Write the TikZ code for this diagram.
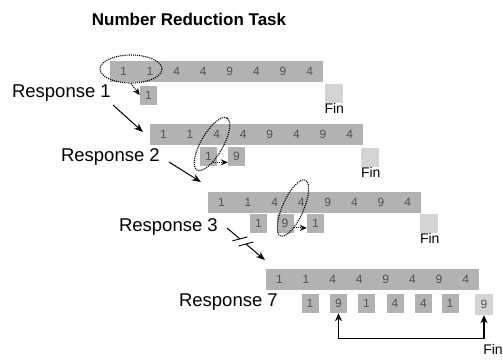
\documentclass[tikz,border=0pt]{standalone}
\usepackage{fontspec}
\setmainfont{Liberation Sans}
\usetikzlibrary{matrix,positioning,shapes.geometric,arrows.meta,calc}
\definecolor{barfill}{gray}{0.70}
\definecolor{finfill}{gray}{0.83}
\definecolor{digitcol}{gray}{0.33}

\begin{document}
\begin{tikzpicture}[
  x=1pt,y=-1pt,
  numbar/.style={
    matrix of nodes,
    fill=barfill,
    inner sep=0pt,
    column sep=0pt,
    nodes={minimum width=26.6pt,minimum height=21pt,inner sep=0pt,
      text=digitcol,font=\fontsize{12}{14}\selectfont},
    },
  respbox/.style={fill=barfill,minimum width=17pt,minimum height=19pt,
    inner sep=0pt,text=digitcol,font=\fontsize{12}{14}\selectfont},
  finbox/.style={respbox,fill=finfill,minimum width=18pt},
  resplabel/.style={anchor=east,inner sep=0pt,font=\fontsize{18.5}{22}\selectfont},
  fintext/.style={inner sep=0pt,font=\fontsize{14}{16}\selectfont},
  selection/.style={draw,densely dotted,line width=1.1pt,ellipse,inner sep=0pt},
  selarrow/.style={densely dotted,line width=1.1pt,-{Stealth[length=7pt,width=6pt]}},
  steparrow/.style={line width=1pt,-{Stealth[length=9pt,width=7pt]}},
  ]
  \useasboundingbox (0,0) rectangle (503,362);

  \node[anchor=base,font=\fontsize{17}{20}\selectfont\bfseries]
    (title) at (189,25) {Number Reduction Task};

  % the four sequences
  \matrix[numbar] (row1) at (216.5,71)  {1 & 1 & 4 & 4 & 9 & 4 & 9 & 4\\};
  \matrix[numbar] (row2) at (256.5,134.5) {1 & 1 & 4 & 4 & 9 & 4 & 9 & 4\\};
  \matrix[numbar] (row3) at (314.5,202.5) {1 & 1 & 4 & 4 & 9 & 4 & 9 & 4\\};
  \matrix[numbar] (row4) at (372.5,279)  {1 & 1 & 4 & 4 & 9 & 4 & 9 & 4\\};

  % labels
  \node[resplabel] (lab1) at (111,93)  {Response 1};
  \node[resplabel] (lab2) at (160,157) {Response 2};
  \node[resplabel] (lab3) at (218,227) {Response 3};
  \node[resplabel] (lab7) at (278,302) {Response 7};

  % responses
  \node[respbox] (r1a) at (148.5,95) {1};
  \node[finbox]  (fin1) at (333.5,93) {};
  \node[fintext,anchor=north west] (fin1t) at (fin1.south west) {Fin};

  \node[respbox] (r2a) at (208.5,156.5) {1};
  \node[respbox] (r2b) at (236.5,156.5) {9};
  \node[finbox]  (fin2) at (370,157.5) {};
  \node[fintext,anchor=north west] (fin2t) at (fin2.south west) {Fin};

  \node[respbox] (r3a) at (258.5,223.5) {1};
  \node[respbox] (r3b) at (285,223.5) {9};
  \node[respbox] (r3c) at (315.5,223.5) {1};
  \node[finbox]  (fin3) at (429,223.5) {};
  \node[fintext,anchor=north west] (fin3t) at (fin3.south west) {Fin};

  \node[respbox] (r4a) at (310,303.5) {1};
  \node[respbox] (r4b) at (338.5,303.5) {9};
  \node[respbox] (r4c) at (366.5,303.5) {1};
  \node[respbox] (r4d) at (395,303.5) {4};
  \node[respbox] (r4e) at (423.5,303.5) {4};
  \node[respbox] (r4f) at (450,303.5) {1};
  \node[finbox,minimum height=21pt] (r4fin) at (484,304.5) {9};
  \node[fintext] (fin4t) at (493,349) {Fin};

  % dotted selections
  \node[selection,minimum width=62pt,minimum height=28pt]
    (sel1) at (131,69) {};
  \node[selection,minimum width=60pt,minimum height=22pt,rotate=60]
    (sel2) at (212,144) {};
  \node[selection,minimum width=61pt,minimum height=21pt,rotate=66]
    (sel3) at (293,208) {};
  \draw[selarrow] (sel1.south) -- (r1a.west);
  \draw[selarrow] (sel2.-147) -- (sel2.-147 -| r2b.west);
  \draw[selarrow] (sel3.-153) -- (sel3.-153 -| r3c.west);

  % steps
  \draw[steparrow] ([shift={(2,12)}]lab1.east) -- ([shift={(-7,-2.5)}]row2.west);
  \draw[steparrow] ([shift={(9,5)}]lab2.east) -- ([shift={(-7,-20.5)}]row3.west);
  \coordinate (gap1) at ([shift={(9,1)}]lab3.east);
  \coordinate (gap2) at ([shift={(-1,-19)}]row4.west);
  \draw[line width=1pt] (gap1) -- ($(gap1)!0.34!(gap2)$) coordinate (brk1);
  \draw[steparrow] ($(gap1)!0.5!(gap2)$) coordinate (brk2) -- (gap2);
  \draw[line width=0.9pt] ([shift={(-7.5,2)}]brk1) -- ([shift={(7.5,-2)}]brk1);
  \draw[line width=0.9pt] ([shift={(-7.5,2)}]brk2) -- ([shift={(7.5,-2)}]brk2);

  % final link
  \draw[line width=1.2pt,{Stealth[length=8pt,width=7pt]}-{Stealth[length=8pt,width=7pt]}]
    (r4b.south) -- ++(0,25) -| (r4fin.south);
\end{tikzpicture}
\end{document}
